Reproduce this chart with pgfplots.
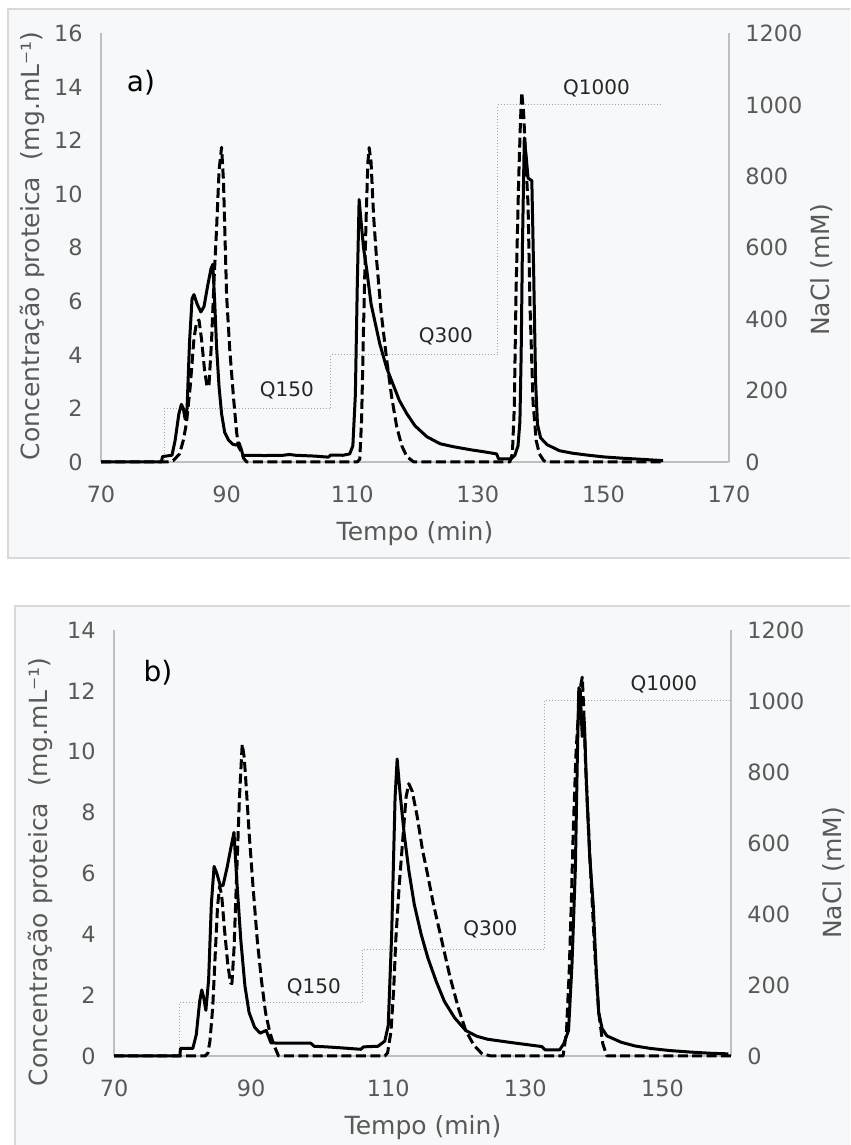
\documentclass[border=0pt]{standalone}
\usepackage{fontspec}
\setmainfont{DejaVu Sans}
\usepackage{pgfplots}
\usepackage{pgfplotstable}
\pgfplotsset{compat=1.18}

\definecolor{labgray}{HTML}{595959}
\definecolor{axgray}{HTML}{BFBFBF}
\definecolor{bggray}{HTML}{F7F8F9}
\definecolor{frgray}{HTML}{D9D9D9}
\definecolor{stepgray}{HTML}{A6A6A6}

\newcommand{\tickfont}{\fontsize{11.2bp}{13bp}\selectfont}
\newcommand{\labfont}{\fontsize{12.5bp}{14bp}\selectfont}
\newcommand{\qfont}{\fontsize{10bp}{12bp}\selectfont}
\newcommand{\panfont}{\fontsize{14bp}{16bp}\selectfont}

% panel a, solid line
\pgfplotstableread{
t c
70 0
79.6 0
79.8 0.2
81.3 0.25
81.8 0.8
82.4 1.8
82.8 2.15
83.1 2.0
83.4 1.6
83.7 2.0
84.1 4.5
84.5 6.1
84.8 6.25
85.3 5.9
85.9 5.6
86.4 5.8
87.0 6.6
87.5 7.2
87.8 7.38
88.1 6.0
88.4 4.3
88.8 2.8
89.2 1.8
89.7 1.1
90.3 0.82
91.0 0.66
91.5 0.63
92.0 0.7
92.3 0.5
92.6 0.25
93.0 0.25
96.0 0.24
99.0 0.25
100.0 0.28
101.0 0.25
104.0 0.22
106.2 0.18
106.6 0.26
108.5 0.25
109.6 0.3
110.1 0.6
110.5 2.5
110.8 6.5
111.1 9.8
111.4 9.0
111.8 8.0
112.3 7.2
113.0 5.9
114.4 4.4
115.5 3.5
116.5 2.9
117.5 2.3
118.7 1.8
120.0 1.35
121.9 0.94
124.0 0.68
126.1 0.57
129.0 0.45
131.0 0.38
133.0 0.3
133.3 0.12
135.3 0.12
135.9 0.25
136.4 0.6
136.7 1.5
136.9 4.0
137.1 8.0
137.4 12.1
137.7 11.4
138.0 10.6
138.6 10.5
138.9 7.0
139.2 3.0
139.5 1.4
140.0 0.9
141.0 0.65
143.0 0.42
145.0 0.33
147.3 0.26
150.0 0.19
153.0 0.14
156.0 0.1
159.5 0.05
}\solidA

% panel a, dashed line
\pgfplotstableread{
t c
70 0
80.5 0
81.5 0.05
82.5 0.3
83.1 0.8
83.6 1.44
84.2 2.8
84.8 4.6
85.2 5.2
85.6 5.3
86.0 4.6
86.5 3.4
86.9 2.8
87.2 2.9
87.6 4.5
88.0 6.8
88.4 8.7
88.8 10.9
89.2 11.75
89.5 10.5
90.0 6.2
90.5 4.2
91.1 2.4
91.6 1.1
91.9 0.57
92.3 0.4
92.7 0.14
93.2 0
110.8 0
111.2 0.1
111.5 1.6
111.8 5.0
112.2 9.0
112.5 11.2
112.7 11.74
113.0 11.2
113.4 9.2
113.9 7.5
114.6 5.6
115.5 3.8
116.3 2.4
117.1 1.3
117.9 0.6
118.7 0.2
119.8 0
135.1 0
135.5 0.3
135.8 2.0
136.1 6.5
136.5 10.5
136.8 12.8
137.0 13.8
137.3 13.0
137.7 11.0
138.0 9.6
138.3 5.9
138.8 2.2
139.3 0.8
139.8 0.3
140.5 0.05
141.0 0
159.5 0
}\dashA

% panel a, NaCl steps
\pgfplotstableread{
t n
70 0
80.1 150
106.6 300
133.2 1000
159.3 1000
}\naclA

% panel b, solid line
\pgfplotstableread{
t c
70 0
79.6 0
79.7 0.25
81.5 0.25
82.0 0.7
82.5 1.8
82.8 2.17
83.1 1.9
83.4 1.5
83.8 2.5
84.2 5.0
84.6 6.23
85.0 6.0
85.5 5.6
85.9 5.6
86.5 6.2
87.1 6.9
87.5 7.35
87.9 5.8
88.5 3.8
89.1 2.3
89.7 1.43
90.5 0.95
91.3 0.75
91.8 0.8
92.2 0.84
92.6 0.6
92.9 0.43
95.0 0.42
98.7 0.42
99.2 0.32
101.0 0.3
103.0 0.27
106.0 0.22
106.4 0.3
108.5 0.32
109.5 0.49
110.0 1.0
110.5 4.0
111.0 8.5
111.3 9.76
111.7 8.7
112.3 7.35
113.0 6.1
113.8 4.98
114.8 4.0
115.8 3.21
117.0 2.45
118.2 1.79
119.7 1.25
121.3 0.84
122.9 0.65
124.5 0.55
128.0 0.44
132.4 0.31
132.9 0.2
135.0 0.2
135.6 0.4
136.3 0.84
136.8 3.0
137.3 6.2
137.6 10.0
137.8 12.1
138.0 12.0
138.3 10.5
138.6 11.0
138.9 9.0
139.4 6.5
139.9 4.98
140.3 3.0
140.7 1.43
141.2 0.9
141.9 0.66
144.0 0.45
146.0 0.33
148.2 0.25
151.0 0.18
154.0 0.13
157.0 0.09
159.6 0.07
}\solidB

% panel b, dashed line
\pgfplotstableread{
t c
70 0
83.3 0
83.7 0.1
84.0 0.5
84.4 1.6
84.8 3.5
85.1 4.9
85.4 5.58
85.7 5.3
86.1 4.2
86.6 3.0
87.0 2.4
87.2 2.38
87.5 3.5
87.9 6.0
88.3 8.5
88.7 10.25
89.0 9.8
89.3 8.8
89.7 7.35
90.3 5.5
90.9 3.8
91.5 2.5
92.1 1.43
92.7 0.8
93.3 0.37
94.0 0
109.5 0
109.9 0.1
110.4 0.8
110.8 2.2
111.1 3.8
111.6 5.6
112.2 7.35
112.6 8.5
113.0 8.95
113.5 8.7
114.2 7.9
115.0 6.77
115.8 5.9
116.6 4.98
117.8 3.8
119.0 2.61
120.2 1.6
121.3 0.84
122.5 0.35
123.7 0.07
125.0 0
135.5 0
136.0 0.8
136.4 2.8
136.7 5.0
137.0 7.5
137.4 10.0
137.8 11.5
138.1 12.2
138.3 12.45
138.5 11.5
138.8 9.5
139.1 8.0
139.5 6.17
140.1 3.5
140.7 1.43
141.3 0.4
141.9 0
160 0
}\dashB

% panel b, NaCl steps
\pgfplotstableread{
t n
70 0
79.6 150
106.2 300
132.8 1000
160 1000
}\naclB

% one reference pixel = 0.5bp
\pgfplotsset{
  base/.style={scale only axis, clip=false, anchor=south west,
    major tick length=0pt,
    axis line style={draw=axgray, line width=0.8bp, -},
    tick label style={font=\tickfont, text=labgray, inner sep=0pt,
      /pgf/number format/assume math mode=true,
      /pgf/number format/1000 sep={}},
    xticklabel style={anchor=center, yshift=-16bp},
  },
  lefty/.style={base, axis x line*=bottom, axis y line*=left,
    yticklabel style={anchor=east, xshift=-9bp}},
  righty/.style={base, axis x line=none, axis y line*=right,
    ymin=0, ymax=1200, ytick={0,200,...,1200},
    yticklabel style={anchor=west, xshift=8bp}},
  prot/.style={black, line width=1.5bp, line join=round, no marks},
  protdash/.style={prot, dash pattern=on 5bp off 2.2bp},
  nacl/.style={const plot, stepgray, line width=0.5bp, densely dotted, no marks},
}

\begin{document}
\begin{tikzpicture}[x=0.5bp, y=0.5bp]
\useasboundingbox (0,0) rectangle (850,1145);
\clip (0,0) rectangle (850,1145);
% chart frames
\filldraw[fill=bggray, draw=frgray, line width=1bp] (8,587) rectangle (900,1136.3);
\filldraw[fill=bggray, draw=frgray, line width=1bp] (15,-20) rectangle (900,538.5);

% ---- panel a ----
\begin{axis}[righty, at={(50.5bp,341.5bp)}, width=314bp, height=214.25bp,
  xmin=70, xmax=170]
  \addplot[nacl] table[x=t, y=n] {\naclA};
\end{axis}
\begin{axis}[lefty, at={(50.5bp,341.5bp)}, width=314bp, height=214.25bp,
  xmin=70, xmax=170, ymin=0, ymax=16,
  xtick={70,90,...,170}, ytick={0,2,...,16}]
  \addplot[prot] table[x=t, y=c] {\solidA};
  \addplot[protdash] table[x=t, y=c] {\dashA};
  \node[font=\qfont, text=black!85] at (axis cs:99.6,2.69) {Q150};
  \node[font=\qfont, text=black!85] at (axis cs:124.9,4.68) {Q300};
  \node[font=\qfont, text=black!85] at (axis cs:148.9,13.94) {Q1000};
\end{axis}
\node[font=\labfont, text=labgray, rotate=90] at (32,899) {Concentração proteica\ \ (mg.mL⁻¹)};
\node[font=\labfont, text=labgray, rotate=90] at (822,875) {NaCl (mM)};
\node[font=\labfont, text=labgray] at (415,611) {Tempo (min)};
\node[font=\panfont] at (141,1062) {a)};

% ---- panel b ----
\begin{axis}[righty, at={(57bp,44.5bp)}, width=308.5bp, height=213bp,
  xmin=70, xmax=160]
  \addplot[nacl] table[x=t, y=n] {\naclB};
\end{axis}
\begin{axis}[lefty, at={(57bp,44.5bp)}, width=308.5bp, height=213bp,
  xmin=70, xmax=160, ymin=0, ymax=14,
  xtick={70,90,...,150}, ytick={0,2,...,14}]
  \addplot[prot] table[x=t, y=c] {\solidB};
  \addplot[protdash] table[x=t, y=c] {\dashB};
  \node[font=\qfont, text=black!85] at (axis cs:99.15,2.27) {Q150};
  \node[font=\qfont, text=black!85] at (axis cs:124.9,4.16) {Q300};
  \node[font=\qfont, text=black!85] at (axis cs:150.2,12.2) {Q1000};
\end{axis}
\node[font=\labfont, text=labgray, rotate=90] at (40,273) {Concentração proteica\ \ (mg.mL⁻¹)};
\node[font=\labfont, text=labgray, rotate=90] at (834,272) {NaCl (mM)};
\node[font=\labfont, text=labgray] at (423,17) {Tempo (min)};
\node[font=\panfont] at (158,472) {b)};
\end{tikzpicture}
\end{document}
